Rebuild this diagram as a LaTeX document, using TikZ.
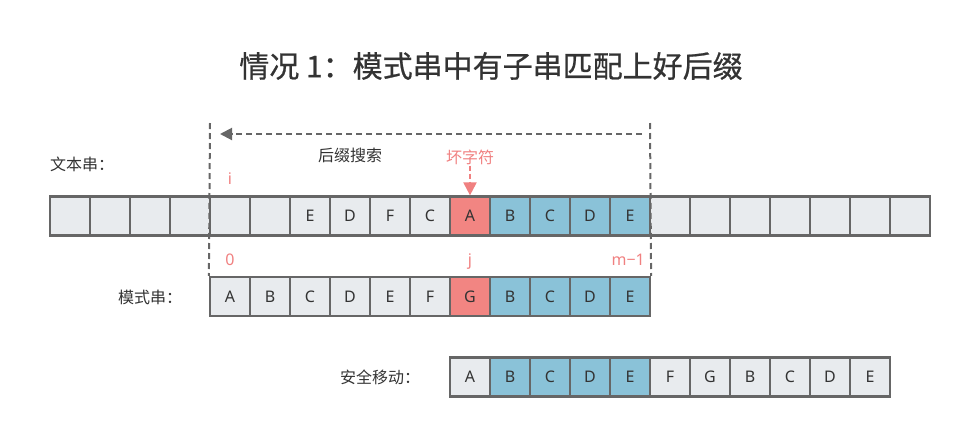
\documentclass[tikz,border=0pt]{standalone}
\usepackage{fontspec}
\setmainfont{Noto Sans CJK SC}
\newfontfamily\latinfont{Noto Sans}
\newfontfamily\titlefont[FakeBold=0.7]{Noto Sans CJK SC}
\definecolor{cellgray}{RGB}{232,235,238}
\definecolor{cellblue}{RGB}{138,194,216}
\definecolor{cellred}{RGB}{242,133,130}
\definecolor{edgegray}{RGB}{102,102,102}
\definecolor{txtdark}{RGB}{51,51,51}
\definecolor{txtpink}{RGB}{240,128,128}
\usetikzlibrary{arrows.meta,positioning}

\begin{document}
\begin{tikzpicture}[x=1pt,y=-1pt,
  cell/.style={draw=edgegray,line width=2.2pt,fill=cellgray,minimum width=40pt,minimum height=39pt,
    inner sep=0pt,font=\latinfont\fontsize{16}{16}\selectfont,text=txtdark},
  rowlabel/.style={font=\fontsize{16}{16}\selectfont,text=txtdark,inner sep=1pt},
  marklabel/.style={font=\fontsize{16}{16}\selectfont,text=txtpink,inner sep=1pt},
  guide/.style={draw=edgegray,line width=2pt,dash pattern=on 6pt off 4pt},
  badmark/.style={draw=txtpink,line width=2pt,dash pattern=on 5pt off 3pt}
]
  \useasboundingbox (0,0) rectangle (980,437);

  \node[font=\titlefont\fontsize{30}{30}\selectfont,text=txtdark] (title) at (491,66) {情况 1：模式串中有子串匹配上好后缀};

  % text string
  \node[rowlabel] (textlbl) at (82,164) {文本串：};
  \foreach \fc/\ch [count=\k from 0] in {cellgray/{},cellgray/{},cellgray/{},cellgray/{},cellgray/{},cellgray/{},
      cellgray/E,cellgray/D,cellgray/F,cellgray/C,cellred/A,cellblue/B,cellblue/C,cellblue/D,cellblue/E,
      cellgray/{},cellgray/{},cellgray/{},cellgray/{},cellgray/{},cellgray/{},cellgray/{}}
    \node[cell,fill=\fc] (t\k) at (70+40*\k,216) {\ch};

  % pattern
  \node[rowlabel] (patlbl) at (150,297) {模式串：};
  \foreach \fc/\ch [count=\k from 0] in {cellgray/A,cellgray/B,cellgray/C,cellgray/D,cellgray/E,cellgray/F,
      cellred/G,cellblue/B,cellblue/C,cellblue/D,cellblue/E}
    \node[cell,fill=\fc] (p\k) at (230+40*\k,296.5) {\ch};

  % safe shift
  \node[rowlabel] (safelbl) at (380,377) {安全移动：};
  \foreach \fc/\ch [count=\k from 0] in {cellgray/A,cellblue/B,cellblue/C,cellblue/D,cellblue/E,cellgray/F,
      cellgray/G,cellgray/B,cellgray/C,cellgray/D,cellgray/E}
    \node[cell,fill=\fc] (s\k) at (470+40*\k,377) {\ch};

  % suffix search window
  \coordinate (winL) at (210,123);
  \coordinate (winR) at (650,123);
  \coordinate (searchR) at (642,134);
  \coordinate (searchL) at (220,134);
  \draw[guide] (winL) -- (p0.north west);
  \draw[guide] (winR) -- (p10.north east);
  \draw[guide,-{Triangle[length=12pt,width=12pt]}] (searchR) -- (searchL);
  \node[rowlabel] (searchlbl) at (350,155) {后缀搜索};

  % marks
  \node[marklabel] (bad) at (470,157) {坏字符};
  \draw[badmark,-{Triangle[length=13pt,width=13pt]}] (bad.south) -- (t10.north);
  \node[marklabel,font=\latinfont\fontsize{16}{16}\selectfont] (idxi) at (230,179) {i};
  \node[marklabel,font=\latinfont\fontsize{16}{16}\selectfont] (idx0) at (230,260) {0};
  \node[marklabel,font=\latinfont\fontsize{16}{16}\selectfont] (idxj) at (470,262) {j};
  \node[marklabel,font=\latinfont\fontsize{16}{16}\selectfont,anchor=east] (idxm) at (646,260) {m−1};
\end{tikzpicture}
\end{document}
